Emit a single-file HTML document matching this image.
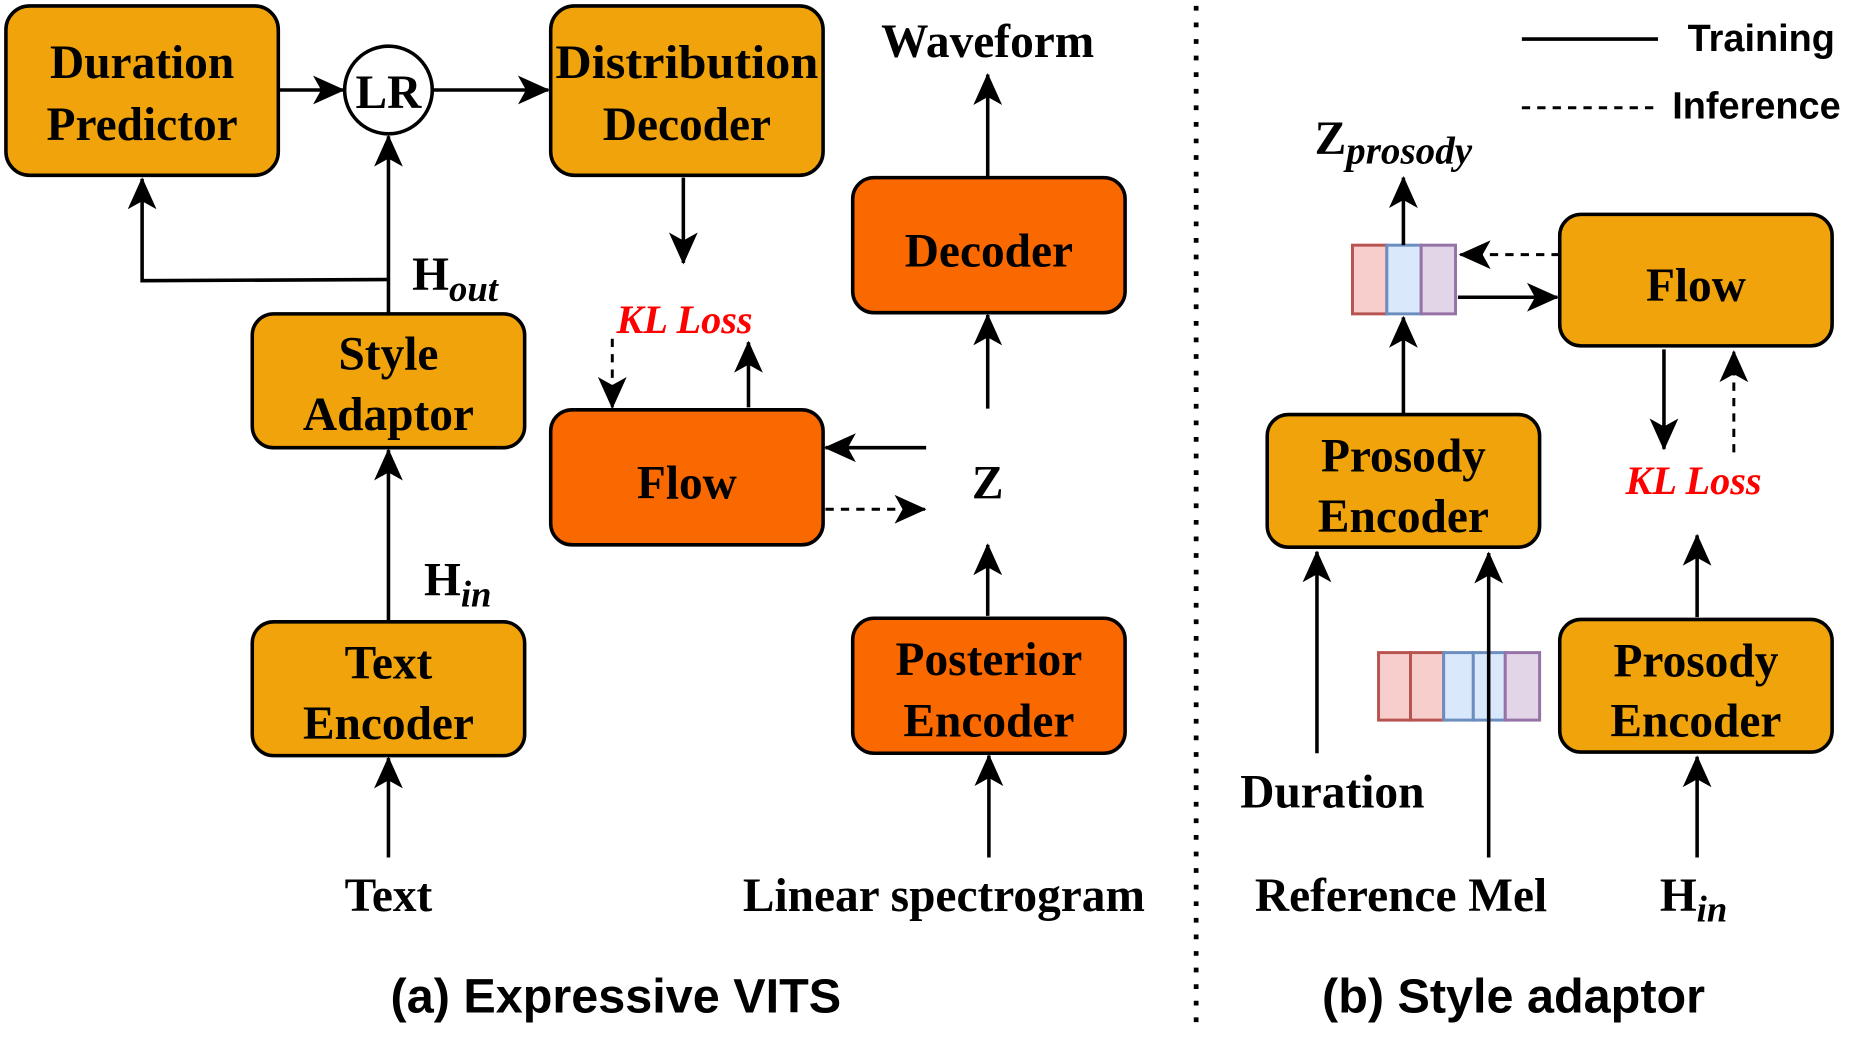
<!DOCTYPE html>
<html><head><meta charset="utf-8"><style>
html,body{margin:0;padding:0;background:#fff;width:1857px;height:1047px;overflow:hidden}
svg{display:block}
.s{font-family:"Liberation Serif",serif;font-weight:bold;font-size:40px;fill:#000;text-anchor:middle}
.a{font-family:"Liberation Sans",sans-serif;font-weight:bold;fill:#000}
.kl{font-family:"Liberation Serif",serif;font-style:italic;font-weight:bold;font-size:34px;fill:#f00;text-anchor:middle}
.b{stroke:#000;stroke-width:3}
.l{stroke:#000;stroke-width:3;fill:none}
.d{stroke:#000;stroke-width:2.5;fill:none;stroke-dasharray:7 6}
</style></head><body>
<svg width="1857" height="1047" viewBox="0 0 1568 884" preserveAspectRatio="none" xmlns="http://www.w3.org/2000/svg">
<defs>
<marker id="m" viewBox="0 0 20 20" refX="19" refY="10" markerWidth="27" markerHeight="27" markerUnits="userSpaceOnUse" orient="auto">
<path d="M0,1 L20,10 L0,19 L5,10 Z" fill="#000"/></marker>
</defs>
<rect x="5" y="5" width="230" height="143" rx="20" fill="#F0A30A" class="b"/>
<text class="s" x="120" y="66">Duration</text><text class="s" x="120" y="118">Predictor</text>
<circle cx="328" cy="76" r="37" fill="#fff" class="b"/>
<text class="s" x="328" y="91">LR</text>
<rect x="465" y="5" width="230" height="143" rx="20" fill="#F0A30A" class="b"/>
<text class="s" x="580" y="66" textLength="222" lengthAdjust="spacingAndGlyphs">Distribution</text><text class="s" x="580" y="118">Decoder</text>
<rect x="213" y="265" width="230" height="113" rx="18" fill="#F0A30A" class="b"/>
<text class="s" x="328" y="312">Style</text><text class="s" x="328" y="363">Adaptor</text>
<rect x="213" y="525" width="230" height="113" rx="18" fill="#F0A30A" class="b"/>
<text class="s" x="328" y="573">Text</text><text class="s" x="328" y="624">Encoder</text>
<rect x="465" y="346" width="230" height="114" rx="18" fill="#FA6800" class="b"/>
<text class="s" x="580" y="421">Flow</text>
<rect x="720" y="150" width="230" height="114" rx="18" fill="#FA6800" class="b"/>
<text class="s" x="835" y="225">Decoder</text>
<rect x="720" y="522" width="230" height="114" rx="18" fill="#FA6800" class="b"/>
<text class="s" x="835" y="570">Posterior</text><text class="s" x="835" y="622">Encoder</text>
<line x1="235" y1="76" x2="290" y2="76" class="l" marker-end="url(#m)"/>
<line x1="365" y1="76" x2="463" y2="76" class="l" marker-end="url(#m)"/>
<line x1="328" y1="265" x2="328" y2="115" class="l" marker-end="url(#m)"/>
<polyline points="328,236 120,237 120,151" class="l" marker-end="url(#m)"/>
<line x1="328" y1="525" x2="328" y2="380" class="l" marker-end="url(#m)"/>
<line x1="328" y1="724" x2="328" y2="640" class="l" marker-end="url(#m)"/>
<text class="s" x="348" y="245" style="text-anchor:start">H<tspan font-style="italic" font-size="31" dy="9">out</tspan></text>
<text class="s" x="358" y="503" style="text-anchor:start">H<tspan font-style="italic" font-size="31" dy="9">in</tspan></text>
<line x1="577" y1="150" x2="577" y2="222" class="l" marker-end="url(#m)"/>
<text class="kl" x="578" y="281">KL Loss</text>
<line x1="517" y1="286" x2="517" y2="344" class="d" marker-end="url(#m)"/>
<line x1="632" y1="344" x2="632" y2="289" class="l" marker-end="url(#m)"/>
<line x1="782" y1="378" x2="697" y2="378" class="l" marker-end="url(#m)"/>
<line x1="697" y1="430" x2="781" y2="430" class="d" marker-end="url(#m)"/>
<text class="s" x="834" y="421">Z</text>
<line x1="834" y1="345" x2="834" y2="266" class="l" marker-end="url(#m)"/>
<line x1="834" y1="150" x2="834" y2="63" class="l" marker-end="url(#m)"/>
<text class="s" x="834" y="48">Waveform</text>
<line x1="834" y1="520" x2="834" y2="460" class="l" marker-end="url(#m)"/>
<line x1="835" y1="724" x2="835" y2="638" class="l" marker-end="url(#m)"/>
<text class="s" x="797" y="769">Linear spectrogram</text>
<text class="s" x="328" y="769">Text</text>
<line x1="1010" y1="5" x2="1010" y2="868" stroke="#000" stroke-width="4" stroke-dasharray="4 10"/>
<line x1="1285" y1="33" x2="1400" y2="33" class="l"/>
<text class="a" x="1425" y="43" font-size="32">Training</text>
<line x1="1285" y1="91" x2="1400" y2="91" class="d"/>
<text class="a" x="1412" y="100" font-size="32">Inference</text>
<text class="s" x="1110" y="130" style="text-anchor:start">Z<tspan font-style="italic" font-size="33" dy="8">prosody</tspan></text>
<rect x="1142" y="207" width="29" height="58" fill="#F8CECC" stroke="#B85450" stroke-width="2.5"/>
<rect x="1171" y="207" width="29" height="58" fill="#DAE8FC" stroke="#6C8EBF" stroke-width="2.5"/>
<rect x="1200" y="207" width="29" height="58" fill="#E1D5E7" stroke="#9673A6" stroke-width="2.5"/>
<line x1="1185" y1="207" x2="1185" y2="150" class="l" marker-end="url(#m)"/>
<rect x="1317" y="181" width="230" height="111" rx="18" fill="#F0A30A" class="b"/>
<text class="s" x="1432" y="254">Flow</text>
<line x1="1317" y1="215" x2="1233" y2="215" class="d" marker-end="url(#m)"/>
<line x1="1231" y1="251" x2="1315" y2="251" class="l" marker-end="url(#m)"/>
<rect x="1070" y="350" width="230" height="112" rx="18" fill="#F0A30A" class="b"/>
<text class="s" x="1185" y="398">Prosody</text><text class="s" x="1185" y="449">Encoder</text>
<line x1="1185" y1="350" x2="1185" y2="268" class="l" marker-end="url(#m)"/>
<line x1="1405" y1="295" x2="1405" y2="379" class="l" marker-end="url(#m)"/>
<line x1="1464" y1="382" x2="1464" y2="297" class="d" marker-end="url(#m)"/>
<text class="kl" x="1430" y="417">KL Loss</text>
<rect x="1317" y="523" width="230" height="112" rx="18" fill="#F0A30A" class="b"/>
<text class="s" x="1432" y="571">Prosody</text><text class="s" x="1432" y="622">Encoder</text>
<line x1="1433" y1="521" x2="1433" y2="452" class="l" marker-end="url(#m)"/>
<line x1="1433" y1="724" x2="1433" y2="639" class="l" marker-end="url(#m)"/>
<text class="s" x="1430" y="769">H<tspan font-style="italic" font-size="31" dy="9">in</tspan></text>
<line x1="1112" y1="636" x2="1112" y2="466" class="l" marker-end="url(#m)"/>
<text class="s" x="1125" y="682">Duration</text>
<rect x="1164" y="551" width="27" height="57" fill="#F8CECC" stroke="#B85450" stroke-width="2.5"/>
<rect x="1191" y="551" width="28" height="57" fill="#F8CECC" stroke="#B85450" stroke-width="2.5"/>
<rect x="1219" y="551" width="25" height="57" fill="#DAE8FC" stroke="#6C8EBF" stroke-width="2.5"/>
<rect x="1244" y="551" width="27" height="57" fill="#DAE8FC" stroke="#6C8EBF" stroke-width="2.5"/>
<rect x="1271" y="551" width="29" height="57" fill="#E1D5E7" stroke="#9673A6" stroke-width="2.5"/>
<line x1="1257" y1="724" x2="1257" y2="467" class="l" marker-end="url(#m)"/>
<text class="s" x="1183" y="769">Reference Mel</text>
<text class="a" x="520" y="855" font-size="41" text-anchor="middle">(a) Expressive VITS</text>
<text class="a" x="1278" y="855" font-size="41" text-anchor="middle">(b) Style adaptor</text>
</svg>
</body></html>
